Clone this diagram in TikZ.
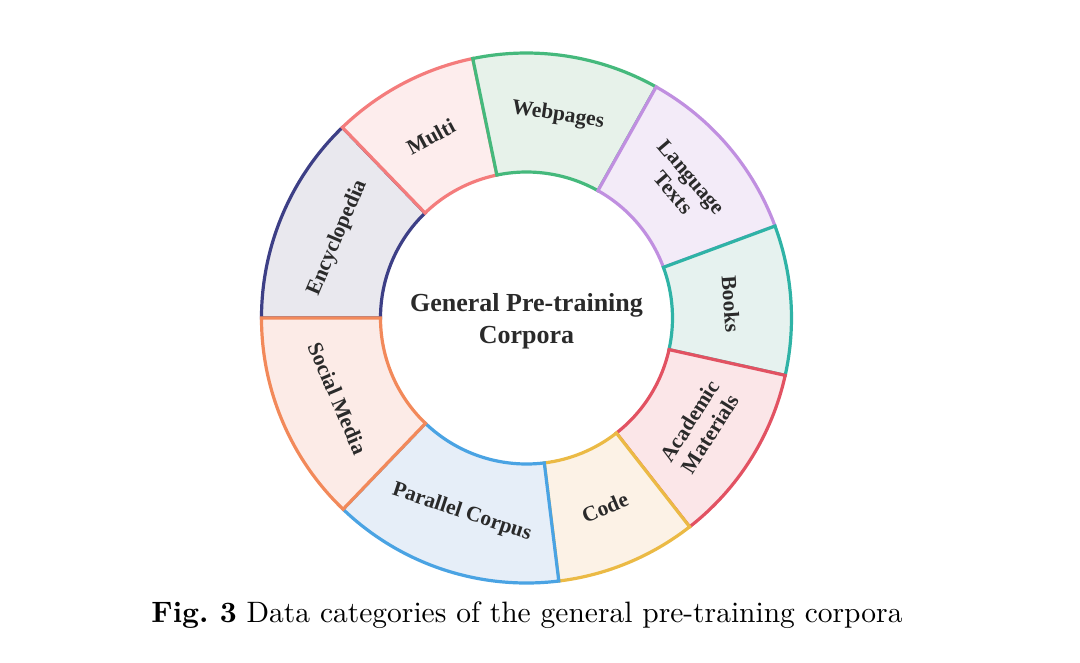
\documentclass[tikz,border=0pt]{standalone}
\usepackage{fontspec}
\newfontfamily\tms{Liberation Serif}
\newfontfamily\capfont{lmroman10-regular.otf}[BoldFont=lmroman10-bold.otf]
\definecolor{txt}{HTML}{2A2A2A}
\definecolor{dEnc}{HTML}{3D3F86}\definecolor{fEnc}{HTML}{E9E8EE}
\definecolor{dMul}{HTML}{F47C7C}\definecolor{fMul}{HTML}{FDEDED}
\definecolor{dWeb}{HTML}{45B97C}\definecolor{fWeb}{HTML}{E7F2EA}
\definecolor{dLan}{HTML}{C08FE0}\definecolor{fLan}{HTML}{F3EBF8}
\definecolor{dBoo}{HTML}{2FB3A6}\definecolor{fBoo}{HTML}{E6F2EF}
\definecolor{dAca}{HTML}{E25262}\definecolor{fAca}{HTML}{FBE6E8}
\definecolor{dCod}{HTML}{EBBA45}\definecolor{fCod}{HTML}{FCF2E6}
\definecolor{dPar}{HTML}{4AA3E3}\definecolor{fPar}{HTML}{E6EEF8}
\definecolor{dSoc}{HTML}{F2895A}\definecolor{fSoc}{HTML}{FCEBE7}
\tikzset{
  seg/.style={line width=3.2pt, line join=miter},
  seglabel/.style={font=\tms\bfseries\fontsize{21.5}{24}\selectfont, text=txt, align=center, inner sep=0pt},
  centerlabel/.style={font=\tms\bfseries\fontsize{26}{32}\selectfont, text=txt, align=center, inner sep=0pt},
}
\begin{document}
\begin{tikzpicture}[x=1pt,y=1pt]
\useasboundingbox (-526.5,-344) rectangle (553.5,318);
\def\ri{146}\def\ro{265}\def\rl{205}
\foreach \a/\b/\c/\rot/\nm/\t in {
  134/180/Enc/67/enc/{Encyclopedia},
  101.7/134/Mul/28/mul/{Multi},
  60.7/101.7/Web/-8.5/web/{Webpages},
  20.3/60.7/Lan/-49.5/lan/{Language\\Texts},
  -12.5/20.3/Boo/-86/boo/{Books},
  -52/-12.5/Aca/57.7/aca/{Academic\\Materials},
  -83/-52/Cod/22.5/cod/{Code},
  226.2/277/Par/-18.4/par/{Parallel Corpus},
  180/226.2/Soc/-67/soc/{Social Media}}{
  \draw[seg, draw=d\c, fill=f\c] (\a:\ri) -- (\a:\ro) arc[start angle=\a, end angle=\b, radius=\ro]
     -- (\b:\ri) arc[start angle=\b, end angle=\a, radius=\ri] -- cycle;
  \pgfmathsetmacro\mid{(\a+\b)/2}
  \node[seglabel, rotate=\rot] (\nm) at (\mid:\rl) {\t};
}
\node[centerlabel] (center) at (0,-3) {General Pre-training\\Corpora};
\node[anchor=base, inner sep=0pt, font=\capfont\fontsize{29.5}{34}\selectfont] (caption) at (0.5,-304) {\textbf{Fig.\ 3} Data categories of the general pre-training corpora};
\end{tikzpicture}
\end{document}
